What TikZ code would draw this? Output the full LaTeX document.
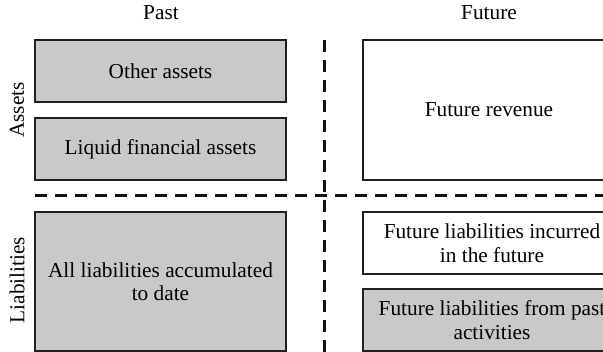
\documentclass[tikz,border=0pt]{standalone}
\usepackage{fontspec}
\setmainfont{Liberation Serif}
\begin{document}
\begin{tikzpicture}[x=1pt,y=-1pt,
  box/.style={draw=black!88,line width=1.8pt,align=center,inner sep=0pt},
  grey/.style={box,fill=black!21},
  divider/.style={line width=3pt,dash pattern=on 12pt off 8pt,black!92},
  every node/.style={font=\fontsize{21.3}{23.5}\selectfont}]
\useasboundingbox (0,0) rectangle (603,352);
\clip (0,0) rectangle (603,352);
% boxes
\draw[grey] (35,40) rectangle (286,102) node[midway] (oa) {Other assets};
\draw[grey] (35,118) rectangle (286,180) node[midway] (lfa) {Liquid financial assets};
\draw[box,fill=white] (363,40) rectangle (640,180);
\node (fr) at (489,110) {Future revenue};
\draw[grey] (35,212) rectangle (286,351) node[midway,align=center] (al) {All liabilities accumulated\\to date};
\draw[box,fill=white] (363,212) rectangle (640,274);
\node[align=center] (fli) at (492,243) {Future liabilities incurred\\in the future};
\draw[grey] (363,289) rectangle (640,351);
\node[align=center] (flp) at (492,320) {Future liabilities from past\\activities};
% dividers
\coordinate (h1) at (35,196);
\coordinate (h2) at (640,196);
\coordinate (v1) at (324,40);
\coordinate (v2) at (324,356);
\draw[divider] (h1) -- (h2);
\draw[divider] (v1) -- (v2);
% labels
\node (past) at (161,13) {Past};
\node (future) at (489,13) {Future};
\node[rotate=90] (assets) at (17,110) {Assets};
\node[rotate=90] (liab) at (17,280) {Liabilities};
\end{tikzpicture}
\end{document}
